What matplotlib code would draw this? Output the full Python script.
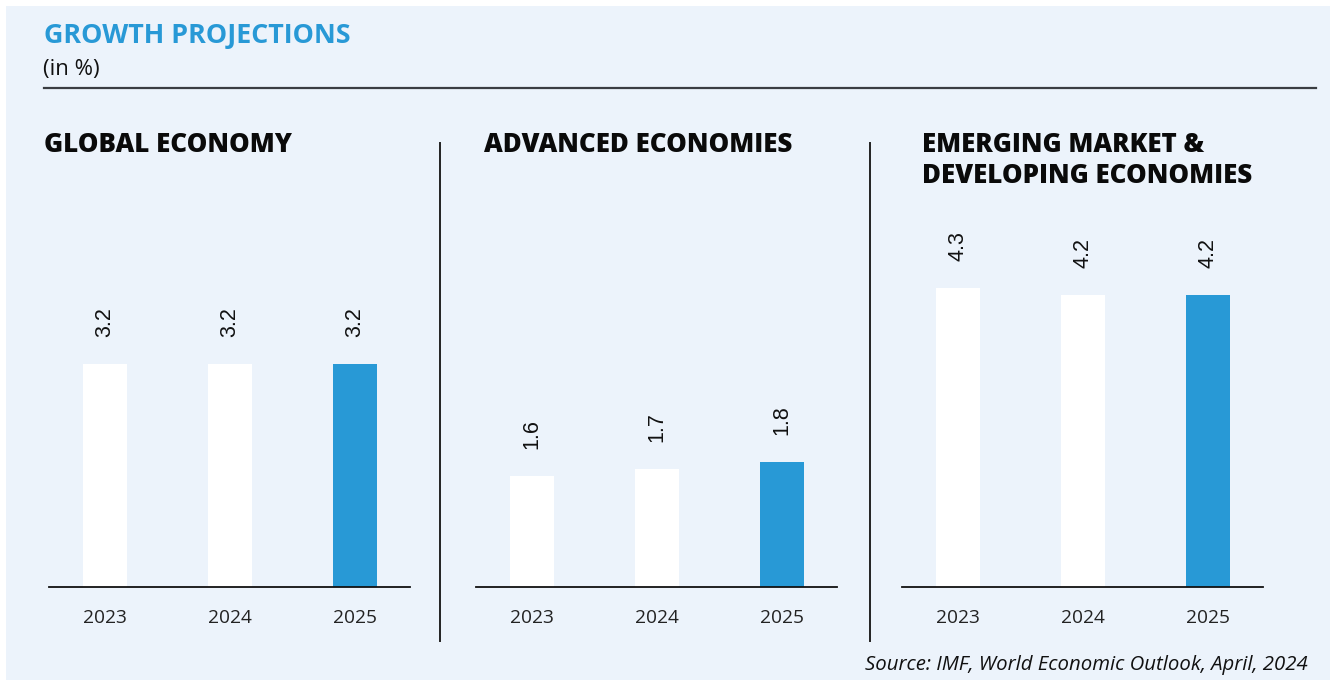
import matplotlib
matplotlib.use("Agg")
import matplotlib.pyplot as plt
from matplotlib.patches import Rectangle
from matplotlib.lines import Line2D

# growth projections (in %), IMF WEO April 2024
years = ["2023", "2024", "2025"]
panel_titles = ["GLOBAL ECONOMY", "ADVANCED ECONOMIES", "EMERGING MARKET &\nDEVELOPING ECONOMIES"]
global_growth = [3.2, 3.2, 3.2]
advanced_growth = [1.6, 1.7, 1.8]
emerging_growth = [4.3, 4.2, 4.2]
panel_values = [global_growth, advanced_growth, emerging_growth]

BG = "#ECF3FB"
BLUE = "#2899D6"
W, H = 1330, 680

fig = plt.figure(figsize=(W / 100, H / 100), dpi=100)
fig.patch.set_facecolor("white")


def fx(px):
    return px / W


def fy(py):
    return 1 - py / H


# light panel background, leaving a thin white margin top and left
fig.patches.append(Rectangle((fx(6), 0), 1, fy(6), transform=fig.transFigure,
                             facecolor=BG, edgecolor="none", zorder=-10))

fig.text(fx(44), fy(36), "GROWTH PROJECTIONS", color=BLUE, fontsize=19.4,
         fontweight="bold", family="Open Sans", va="center", ha="left")
fig.text(fx(43), fy(70), "(in %)", color="#111111", fontsize=16,
         family="Open Sans", va="center", ha="left")
fig.add_artist(Line2D([fx(44), fx(1316)], [fy(88), fy(88)], color="#3a3d42",
                      lw=1.6, transform=fig.transFigure))

# separators between panels
for x in (440, 870):
    fig.add_artist(Line2D([fx(x), fx(x)], [fy(143), fy(641)], color="#222222",
                          lw=1.4, transform=fig.transFigure))

px_per_unit = 69.6
base_y, top_y = 587, 150
ymax = (base_y - top_y) / px_per_unit
panel_left = [49, 476, 902]
panel_w = 361
title_x = [44, 484, 922]

for i, vals in enumerate(panel_values):
    ax = fig.add_axes([fx(panel_left[i]), fy(base_y), fx(panel_w),
                       (base_y - top_y) / H])
    ax.set_facecolor("none")
    colors = ["white", "white", BLUE]
    xs = range(len(years))
    ax.bar(xs, vals, width=0.352, color=colors, edgecolor="none")
    ax.set_xlim(-0.448, 2.44)
    ax.set_ylim(0, ymax)
    for x, v in zip(xs, vals):
        ax.annotate(f"{v:.1f}", (x, v), xytext=(0, 27 * 0.72),
                    textcoords="offset points", rotation=90, ha="center",
                    va="bottom", fontsize=15.5, family="Liberation Sans",
                    color="#111111")
    for s in ("top", "right", "left"):
        ax.spines[s].set_visible(False)
    ax.spines["bottom"].set_color("#111111")
    ax.spines["bottom"].set_linewidth(1.3)
    ax.set_yticks([])
    ax.set_xticks(list(xs))
    ax.set_xticklabels(years, fontsize=13.8, family="Open Sans", color="#222222")
    ax.tick_params(axis="x", length=0, pad=16)

    fig.text(fx(title_x[i]), fy(132), panel_titles[i], fontsize=18.6,
             fontweight="heavy", family="Open Sans", color="#0a0a0a",
             ha="left", va="top", linespacing=1.25)

fig.text(fx(1308), fy(665), "Source: IMF, World Economic Outlook, April, 2024",
         fontsize=14.7, style="italic", family="Open Sans", color="#111111",
         ha="right", va="center")

fig.savefig("out.png", dpi=100, facecolor=fig.get_facecolor())
